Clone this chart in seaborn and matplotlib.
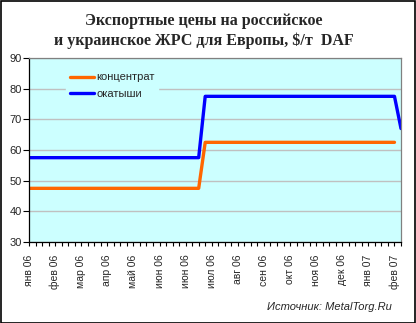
import numpy as np
import pandas as pd
import matplotlib
matplotlib.use("Agg")
import matplotlib.pyplot as plt
import seaborn as sns
from matplotlib.patches import Rectangle

# --- data (weekly points, Jan 2006 - Feb 2007) ---
n_points = 58
concentrate = [47.5] * 27 + [62.5] * 30 + [np.nan]
pellets = [57.5] * 27 + [77.5] * 30 + [67.0]
tick_labels = ["янв 06", "фев 06", "мар 06", "апр 06", "май 06", "июн 06", "июн 06",
               "июл 06", "авг 06", "сен 06", "окт 06", "ноя 06", "дек 06", "янв 07", "фев 07"]
label_step = 4
series_names = ["концентрат", "окатыши"]
colors = ["#FF6600", "#0000FF"]

df = pd.DataFrame({
    "idx": list(range(n_points)) * 2,
    "value": concentrate + pellets,
    "series": [series_names[0]] * n_points + [series_names[1]] * n_points,
})

sns.set_style("white")
plt.rcParams['font.family'] = ['Liberation Sans', 'DejaVu Sans']

fig = plt.figure(figsize=(4.16, 3.23), dpi=100)
fig.patch.set_facecolor("white")
ax = fig.add_axes([29 / 416, 1 - 242 / 323, 372 / 416, 184 / 323])
ax.set_facecolor("#CCFFFF")

sns.lineplot(data=df, x="idx", y="value", hue="series", palette=colors,
             linewidth=2.4, ax=ax, legend=True)

ax.set_xlim(0, n_points - 1)
ax.set_ylim(30, 90)
ax.set_yticks(range(30, 91, 10))
ax.yaxis.grid(True, color="#C0C0C0", linewidth=1)
ax.set_axisbelow(True)
ax.set_xticks(range(n_points), minor=True)
ax.set_xticks(range(0, n_points, label_step))
ax.set_xticklabels(tick_labels, rotation=90)
ax.tick_params(axis="x", which="both", direction="out", length=3, width=0.8,
               color="black", bottom=True, labelsize=7.5, pad=6)
ax.tick_params(axis="y", direction="out", length=4, width=0.8, color="black",
               left=True, labelsize=8, pad=1)
ax.set_xlabel("")
ax.set_ylabel("")
for s in ["left", "bottom"]:
    ax.spines[s].set_color("black")
    ax.spines[s].set_linewidth(0.9)
for s in ["top", "right"]:
    ax.spines[s].set_color("#808080")
    ax.spines[s].set_linewidth(0.9)

leg = ax.legend(loc="upper left", bbox_to_anchor=(0.085, 0.97), frameon=True,
                facecolor="#CCFFFF", edgecolor="#CCFFFF", framealpha=1,
                fontsize=8, handlelength=2.2, handletextpad=0.2,
                labelspacing=0.6, borderpad=0.3)
for line in leg.get_lines():
    line.set_linewidth(2.4)

fig.text(0.49, 1 - 31 / 323, "Экспортные цены на российское\nи украинское ЖРС для Европы, $/т  DAF",
         ha="center", va="center", fontsize=11.5, fontweight="bold",
         family=["Liberation Serif", "DejaVu Serif"], linespacing=1.35)
fig.text(392 / 416, 1 - 307 / 323, "Источник: MetalTorg.Ru", ha="right", va="center",
         fontsize=8, style="italic")

fig.patches.append(Rectangle((0.5 / 416, 0.5 / 323), 1 - 1.5 / 416, 1 - 1.5 / 323,
                             transform=fig.transFigure, fill=False,
                             edgecolor="black", linewidth=1.2))

fig.savefig("out.png", dpi=100, facecolor="white")
